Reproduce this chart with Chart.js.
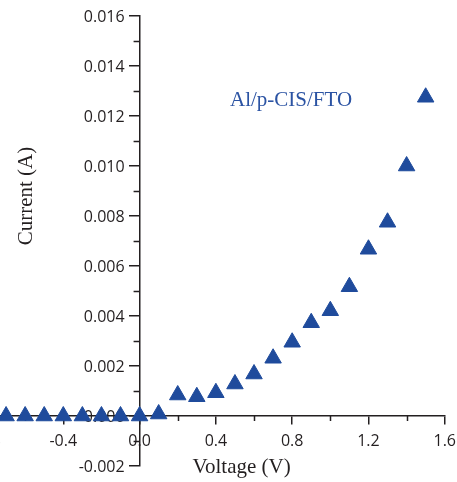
<!DOCTYPE html>
<html>
<head>
<meta charset="utf-8">
<script src="https://cdn.jsdelivr.net/npm/chart.js@4.4.0/dist/chart.umd.min.js"></script>
<style>
  html, body { margin: 0; padding: 0; background: #ffffff; }
  #wrap { position: relative; width: 457px; height: 482px; overflow: hidden; background: #fff; }
  #c { position: absolute; left: -40px; top: 0; }
</style>
</head>
<body>
<div id="wrap"><canvas id="c" width="504" height="482"></canvas></div>
<script>
// ---- data ----
const voltage = [-0.7, -0.6, -0.5, -0.4, -0.3, -0.2, -0.1, 0.0, 0.1, 0.2, 0.3, 0.4, 0.5, 0.6, 0.7, 0.8, 0.9, 1.0, 1.1, 1.2, 1.3, 1.4, 1.5];
const current = [0, 0, 0, 0, 0, 0, 0, 0, 0.00008, 0.00084, 0.00077, 0.00093, 0.00128, 0.00168, 0.00231, 0.00295, 0.00373, 0.00421, 0.00517, 0.00667, 0.00775, 0.0100, 0.01275];
const xMajorTicks = [-0.8, -0.4, 0.0, 0.4, 0.8, 1.2, 1.6];
const xMinorTicks = [-0.6, -0.2, 0.2, 0.6, 1.0, 1.4];
const yMajorTicks = [-0.002, 0.000, 0.002, 0.004, 0.006, 0.008, 0.010, 0.012, 0.014, 0.016];
const yMinorTicks = [-0.001, 0.001, 0.003, 0.005, 0.007, 0.009, 0.011, 0.013, 0.015];
const seriesLabel = 'Al/p-CIS/FTO';
const xTitle = 'Voltage (V)';
const yTitle = 'Current (A)';

const points = voltage.map((v, i) => ({ x: v, y: current[i] }));
const AXIS = '#231f20';
const BLUE = '#1f4b9c';
const TEXT_BLUE = '#2b53a3';
const Y_TICK_LEN = 10;
const Y_LABEL_PAD = 5;

const extras = {
  id: 'extras',
  beforeDatasetsDraw(chart) {
    const ctx = chart.ctx, xs = chart.scales.x, ys = chart.scales.y;
    const x0 = xs.getPixelForValue(0), y0 = ys.getPixelForValue(0);
    ctx.save();
    ctx.strokeStyle = AXIS;
    ctx.lineWidth = 1.5;
    ctx.beginPath();
    xMinorTicks.forEach(v => {
      const px = Math.round(xs.getPixelForValue(v)) + 0.5;
      ctx.moveTo(px, y0); ctx.lineTo(px, y0 + 5);
    });
    yMinorTicks.forEach(v => {
      const py = Math.round(ys.getPixelForValue(v)) + 0.5;
      ctx.moveTo(x0, py); ctx.lineTo(x0 - 6, py);
    });
    ctx.stroke();
    // y tick labels, placed left of the tick marks
    ctx.fillStyle = AXIS;
    ctx.font = '16px "Open Sans", sans-serif';
    ctx.textAlign = 'right';
    ctx.textBaseline = 'middle';
    ys.ticks.forEach(t => {
      ctx.fillText(t.value.toFixed(3), x0 - Y_TICK_LEN - Y_LABEL_PAD, ys.getPixelForValue(t.value) + 1);
    });
    ctx.restore();
  },
  afterDraw(chart) {
    const ctx = chart.ctx, xs = chart.scales.x, ys = chart.scales.y;
    const x0 = xs.getPixelForValue(0);
    ctx.save();
    ctx.fillStyle = AXIS;
    ctx.font = '21px "Liberation Serif", "Times New Roman", serif';
    ctx.textAlign = 'center';
    ctx.textBaseline = 'alphabetic';
    ctx.fillText(xTitle, x0 + 102, ys.getPixelForValue(-0.002) + 7);
    ctx.save();
    ctx.translate(72, ys.getPixelForValue(0.0088));
    ctx.rotate(-Math.PI / 2);
    ctx.fillText(yTitle, 0, 0);
    ctx.restore();
    ctx.fillStyle = TEXT_BLUE;
    ctx.textAlign = 'left';
    ctx.fillText(seriesLabel, xs.getPixelForValue(0.474), ys.getPixelForValue(0.0124));
    ctx.restore();
  }
};

new Chart(document.getElementById('c'), {
  type: 'scatter',
  data: {
    datasets: [{
      label: seriesLabel,
      data: points,
      pointStyle: 'triangle',
      pointRadius: 9.5,
      pointHoverRadius: 9.5,
      backgroundColor: BLUE,
      borderColor: BLUE,
      borderWidth: 1,
      showLine: false,
      clip: false
    }]
  },
  options: {
    responsive: false,
    devicePixelRatio: 1,
    animation: false,
    layout: { padding: { left: 27, right: 6, top: 16, bottom: 16 } },
    plugins: { legend: { display: false }, tooltip: { enabled: false } },
    scales: {
      x: {
        type: 'linear',
        position: { y: 0 },
        min: -0.8,
        max: 1.6,
        afterBuildTicks: s => { s.ticks = xMajorTicks.map(v => ({ value: v })); },
        border: { display: true, color: AXIS, width: 1.5 },
        grid: { drawOnChartArea: false, drawTicks: true, tickLength: 8, color: AXIS, lineWidth: 1.5 },
        ticks: {
          color: AXIS,
          font: { family: '"Open Sans", sans-serif', size: 16 },
          padding: 8,
          maxRotation: 0,
          autoSkip: false,
          callback: v => v.toFixed(1)
        }
      },
      y: {
        type: 'linear',
        position: { x: 0 },
        min: -0.002,
        max: 0.016,
        afterBuildTicks: s => { s.ticks = yMajorTicks.map(v => ({ value: v })); },
        border: { display: true, color: AXIS, width: 1.5 },
        grid: { drawOnChartArea: false, drawTicks: true, tickLength: Y_TICK_LEN, color: AXIS, lineWidth: 1.5 },
        ticks: { display: false }
      }
    }
  },
  plugins: [extras]
});
</script>
</body>
</html>
